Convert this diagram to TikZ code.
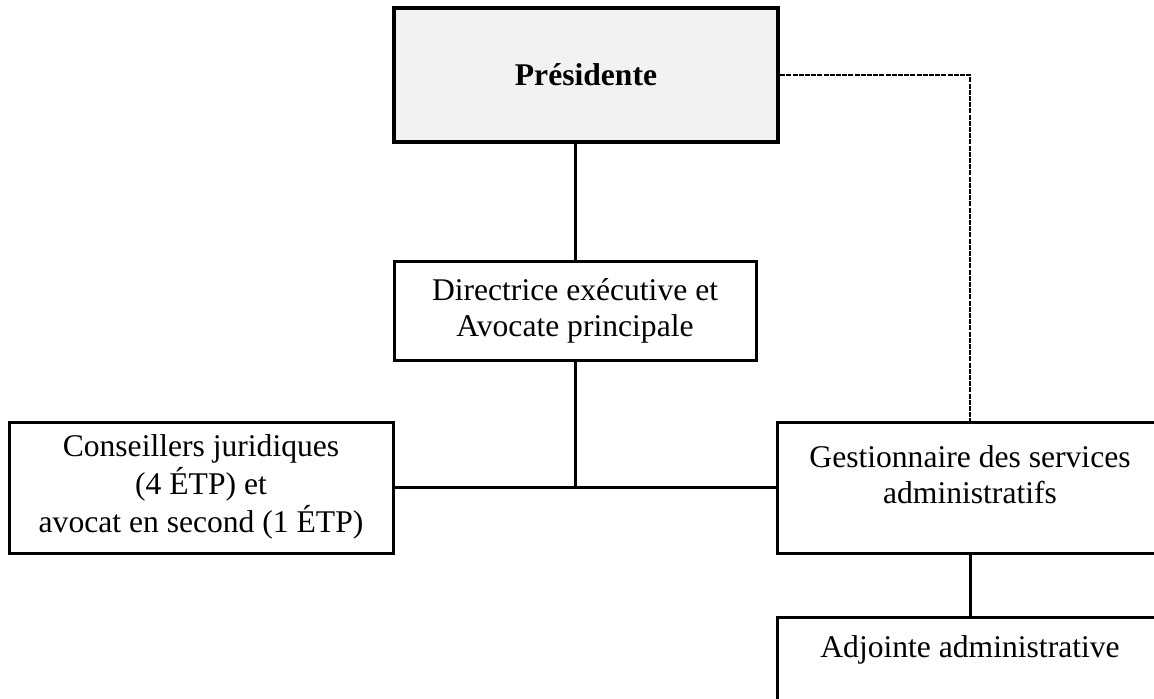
\documentclass[tikz,border=0pt]{standalone}
\usepackage{fontspec}
\setmainfont{Liberation Serif}
\usepackage{tikz}
\usetikzlibrary{positioning}

\definecolor{boxgray}{HTML}{F2F2F2}

\begin{document}
\begin{tikzpicture}[x=0.5pt, y=-0.5pt, font=\fontsize{15.8}{18}\selectfont]
        % Setup the styles for the boxes and the lines
        \tikzset{box style/.style={draw, rectangle,
                                   line width=1.5pt,
                                   align=center,
                                   inner sep=0pt},
                 link style/.style={line width=1.5pt},
                 staff link/.style={line width=1pt,
                                    dash pattern=on 2.5pt off 0.6pt}}

        \useasboundingbox (0, 0) rectangle (1154, 698);
        \clip (0, 0) rectangle (1154, 698);

        % Draw the boxes
        \node[box style, line width=2.25pt, fill=boxgray,
              minimum width=192pt, minimum height=67pt]
              at (586, 75)      (pres)  {\bfseries Présidente};
        \node[box style, minimum width=181pt, minimum height=49.5pt]
              at (575, 310.5)   (dir)   {Directrice exécutive et\\Avocate principale};
        \node[box style, minimum width=192pt, minimum height=65.5pt]
              at (201, 487.5)   (cons)  {\raisebox{-2.75pt}{\begin{tabular}{@{}c@{}}Conseillers juridiques\\(4 ÉTP) et\\avocat en second (1 ÉTP)\end{tabular}}};
        \node[box style, minimum width=193pt, minimum height=65.5pt]
              at (970, 487.5)   (gest)  {Gestionnaire des services\\administratifs\\[-5pt]\mbox{}};
        \node[box style, minimum width=193pt, minimum height=65.5pt]
              at (970, 682.5)   (adj)   {Adjointe administrative\\\mbox{}\\\mbox{}};

        % Connect the boxes
        \draw[link style] (dir.north |- pres.south) -- (dir.north);
        \draw[link style] (dir.south) -- (dir.south |- cons.east);
        \draw[link style] (cons.east) -- (gest.west);
        \draw[link style] (gest.south) -- (adj.north);
        \draw[staff link] (pres.east) -| (gest.north);
\end{tikzpicture}
\end{document}
